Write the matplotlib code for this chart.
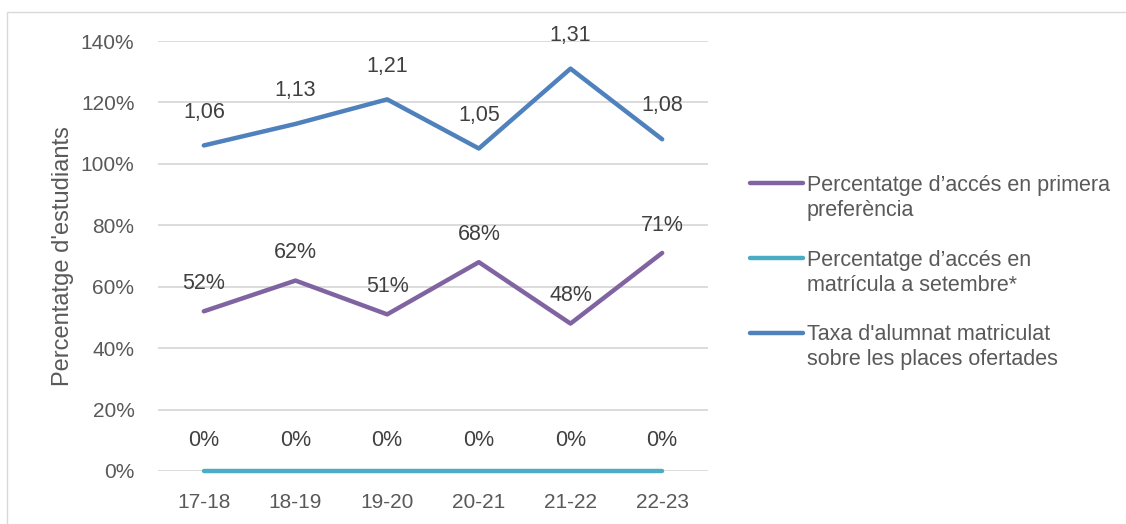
import matplotlib
matplotlib.use("Agg")
import matplotlib.pyplot as plt
from matplotlib.lines import Line2D
from matplotlib.patches import Rectangle

categories = ["17-18", "18-19", "19-20", "20-21", "21-22", "22-23"]
primera_pref = [52, 62, 51, 68, 48, 71]
setembre = [0, 0, 0, 0, 0, 0]
taxa = [1.06, 1.13, 1.21, 1.05, 1.31, 1.08]
yticks = [0, 20, 40, 60, 80, 100, 120, 140]
legend_labels = ["Percentatge d\u2019accés en primera\npreferència",
                 "Percentatge d\u2019accés en\nmatrícula a setembre*",
                 "Taxa d'alumnat matriculat\nsobre les places ofertades"]

plt.rcParams['font.family'] = ['Liberation Sans', 'DejaVu Sans']
TXT = '#595959'
PURPLE = '#8064A2'
TEAL = '#4BACC6'
BLUE = '#4F81BD'
W, H = 1126, 524

fig = plt.figure(figsize=(W/100, H/100), dpi=100)
ax = fig.add_axes([158/W, (H-471)/H, (708-158)/W, (471-41)/H])

x = list(range(len(categories)))
taxa_pct = [v*100 for v in taxa]
lw = 3.2
ax.plot(x, setembre, color=TEAL, lw=lw, solid_capstyle='round', zorder=3, clip_on=False)
ax.plot(x, primera_pref, color=PURPLE, lw=lw, solid_capstyle='round', zorder=3)
ax.plot(x, taxa_pct, color=BLUE, lw=lw, solid_capstyle='round', zorder=3)

fs_lab = 15.5
fs_tick = 15
for xi, v in zip(x, primera_pref):
    ax.annotate(f"{v}%", (xi, v), xytext=(0, 20), textcoords='offset points',
                ha='center', va='center', fontsize=fs_lab, color='#404040')
for xi, v in zip(x, setembre):
    ax.annotate(f"{v}%", (xi, v), xytext=(0, 22), textcoords='offset points',
                ha='center', va='center', fontsize=fs_lab, color='#404040')
for xi, v, t in zip(x, taxa_pct, taxa):
    ax.annotate(f"{t:.2f}".replace('.', ','), (xi, v), xytext=(0, 24), textcoords='offset points',
                ha='center', va='center', fontsize=fs_lab, color='#404040')

ax.set_xlim(-0.5, len(categories)-0.5)
ax.set_ylim(0, 140)
ax.set_yticks(yticks)
ax.set_yticklabels([f"{t}%" for t in yticks])
ax.set_xticks(x)
ax.set_xticklabels(categories)
ax.grid(axis='y', color='#D9D9D9', lw=1.3, zorder=0)
ax.set_axisbelow(True)
for s in ax.spines.values():
    s.set_visible(False)
ax.tick_params(axis='both', length=0, labelsize=fs_tick, colors=TXT)
ax.tick_params(axis='y', pad=17)
ax.tick_params(axis='x', pad=16)
ax.set_ylabel("Percentatge d'estudiants", fontsize=17, color=TXT)
ax.yaxis.set_label_coords(-(158-63)/550, 0.5)
for lbl in ax.yaxis.get_ticklabels():
    pass
ax.yaxis.label.set_va('center')

# legend drawn manually
handle_y = [183, 258, 333]
text_y = [198, 273, 347]
for hy, ty, lab, c in zip(handle_y, text_y, legend_labels, [PURPLE, TEAL, BLUE]):
    fig.add_artist(Line2D([750/W, 803/W], [(H-hy)/H, (H-hy)/H], color=c, lw=lw,
                          solid_capstyle='round', transform=fig.transFigure))
    fig.text(807/W, (H-ty)/H, lab, fontsize=15.5, color=TXT, ha='left', va='center',
             linespacing=1.25)

fig.add_artist(Rectangle((7.5/W, -0.05), 1.2, (H-12)/H+0.05, transform=fig.transFigure,
                         fill=False, edgecolor='#D9D9D9', lw=1))

fig.savefig("out.png", dpi=100, facecolor='white')
